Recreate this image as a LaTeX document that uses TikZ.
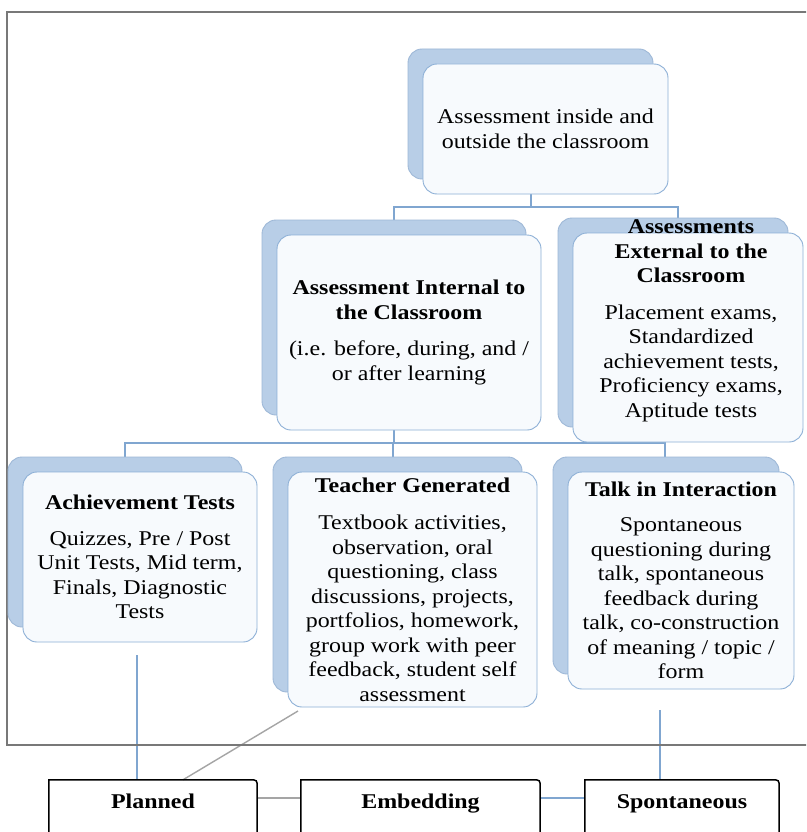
\documentclass[tikz,border=0pt]{standalone}
\usepackage{fontspec}
\setmainfont{Liberation Serif}[FakeStretch=1.14]
\usetikzlibrary{shadows}
\pgfdeclarelayer{back}
\pgfdeclarelayer{bg}
\pgfsetlayers{back,bg,main}
\definecolor{shblue}{RGB}{184,206,231}
\definecolor{shedge}{RGB}{158,184,215}
\definecolor{frontfill}{RGB}{247,250,253}
\definecolor{frontedge}{RGB}{141,176,214}
\definecolor{connblue}{RGB}{128,166,208}
\definecolor{conngray}{RGB}{165,165,165}
\definecolor{framegray}{RGB}{120,120,120}
\begin{document}
\begin{tikzpicture}[x=1pt,y=-1pt,
  card/.style={draw=frontedge, line width=0.9pt, fill=frontfill, rounded corners=14pt,
    inner sep=0pt, align=center, font=\fontsize{21}{24.5}\selectfont,
    copy shadow={shadow xshift=-15pt, shadow yshift=15pt, fill=shblue, draw=shedge, line width=0.9pt}},
  txt/.style={inner sep=0pt, align=center, font=\fontsize{21}{24.5}\selectfont},
  conn/.style={draw=connblue, line width=1.4pt},
  gconn/.style={draw=conngray, line width=1.4pt},
  bottombox/.style={inner sep=0pt, text height=15pt, text depth=5pt, minimum height=46pt,
    font=\bfseries\fontsize{21}{24.5}\selectfont},
  bline/.style={draw=black, line width=1.5pt}
]
\useasboundingbox (0,0) rectangle (806,832);
\begin{pgfonlayer}{back}
\fill[white] (0,0) rectangle (806,832);
\end{pgfonlayer}
\clip (0,0) rectangle (806,832);

% frame
\draw[framegray, line width=2pt] (830,745) -- (7,745) -- (7,12) -- (830,12);

% cards
\node[card, minimum width=245pt, minimum height=130pt] (top) at (545.5,129)
  {Assessment inside and\\outside the classroom};
\node[card, minimum width=264pt, minimum height=195pt] (int) at (409,332.5)
  {\textbf{Assessment Internal to}\\\textbf{the Classroom}\\[12pt](i.e. before, during, and /\\or after learning};
\node[card, minimum width=230pt, minimum height=209pt] (ext) at (688,337.5) {};
\node[txt] (extT) at (691,321)
  {\textbf{Assessments}\\\textbf{External to the}\\\textbf{Classroom}\\[12pt]Placement exams,\\Standardized\\achievement tests,\\Proficiency exams,\\Aptitude tests};
\node[card, minimum width=234pt, minimum height=170pt] (ach) at (140,557)
  {\textbf{Achievement Tests}\\[11pt]Quizzes, Pre / Post\\Unit Tests, Mid term,\\Finals, Diagnostic\\Tests};
\node[card, minimum width=249pt, minimum height=235pt] (tea) at (412.5,589.5)
  {\textbf{Teacher Generated}\\[13pt]Textbook activities,\\observation, oral\\questioning, class\\discussions, projects,\\portfolios, homework,\\group work with peer\\feedback, student self\\assessment};
\node[card, minimum width=226pt, minimum height=217pt] (tal) at (681,580.5)
  {\textbf{Talk in Interaction}\\[11pt]Spontaneous\\questioning during\\talk, spontaneous\\feedback during\\talk, co-construction\\of meaning / topic /\\form};

% bottom boxes
\coordinate (floor) at (0,860);
\node[bottombox, minimum width=208pt] (pl) at (153,803) {Planned};
\node[bottombox, minimum width=239pt] (em) at (420.5,803) {Embedding};
\node[bottombox, minimum width=194pt] (sp) at (682,803) {Spontaneous};
\foreach \b in {pl,em,sp}{
  \draw[bline] (\b.north west |- floor) -- (\b.north west) -- ([xshift=-8pt]\b.north east)
    .. controls (\b.north east) .. ([yshift=-8pt]\b.north east) -- (\b.north east |- floor);
}

% connectors
\begin{pgfonlayer}{bg}
\coordinate (j1) at (531,207);
\coordinate (j1l) at (394,207);
\coordinate (j1r) at (678,207);
\draw[conn] (top.south -| j1) -- (j1);
\draw[conn] (j1l |- int.north) -- (j1l) -- (j1r) -- (j1r |- ext.north);
\coordinate (j2) at (394,443);
\coordinate (j2l) at (125,443);
\coordinate (j2m) at (393,443);
\coordinate (j2r) at (665,443);
\draw[conn] (int.south -| j2) -- (j2);
\draw[conn] (j2l |- ach.north) -- (j2l) -- (j2r) -- (j2r |- tal.north);
\draw[conn] (j2m) -- (j2m |- tea.north);
\coordinate (achdrop) at (137,655);
\draw[conn] (achdrop) -- (achdrop |- pl.north);
\coordinate (teadrop) at (298,711);
\draw[gconn] (teadrop) -- ([xshift=30pt]pl.north);
\coordinate (taldrop) at (660,710);
\draw[conn] (taldrop) -- (taldrop |- sp.north);
\draw[gconn] ([yshift=5pt]pl.east) -- ([yshift=5pt]em.west);
\draw[conn] ([yshift=5pt]em.east) -- ([yshift=5pt]sp.west);
\end{pgfonlayer}
\end{tikzpicture}
\end{document}
